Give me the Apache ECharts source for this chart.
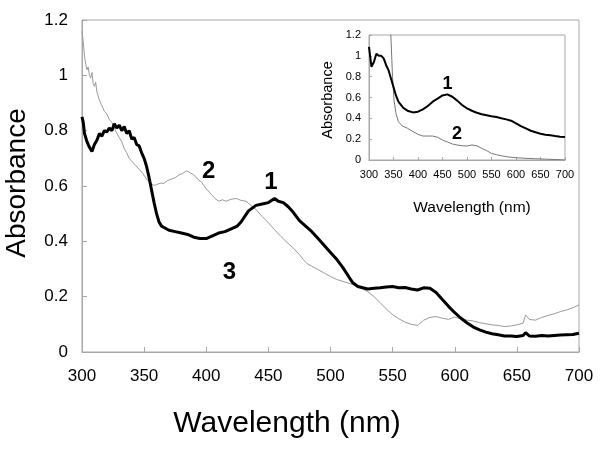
<!DOCTYPE html>
<html>
<head>
<meta charset="utf-8">
<script src="https://cdn.jsdelivr.net/npm/echarts@6/dist/echarts.min.js"></script>
<style>html,body{margin:0;padding:0;background:#fff}#c{width:600px;height:460px}</style>
</head>
<body>
<div id="c"></div>
<script>
// ---- Main chart data ----
var mainWl1 = [300,301,302,304,306,308,310,312,314,316,318,320,322,324,326,328,330,332,334,336,338,340,342,344,346,348,350,352,354,356,358,360,362,364,366,370,375,380,385,390,395,400,405,410,415,420,425,428,431,434,437,440,445,450,455,458,462,466,470,475,480,485,490,495,500,505,510,515,518,522,526,530,535,540,545,550,555,560,565,570,575,580,585,590,595,600,605,610,615,620,625,630,635,640,645,650,655,657,660,665,670,675,680,685,690,695,700];
var mainAbs1 = [0.85,0.83,0.79,0.76,0.74,0.725,0.75,0.765,0.79,0.78,0.80,0.795,0.81,0.80,0.825,0.81,0.82,0.80,0.815,0.79,0.80,0.77,0.775,0.75,0.745,0.72,0.70,0.67,0.63,0.585,0.54,0.50,0.47,0.455,0.45,0.44,0.435,0.43,0.425,0.415,0.41,0.41,0.42,0.43,0.435,0.445,0.455,0.47,0.49,0.51,0.52,0.53,0.535,0.54,0.555,0.545,0.54,0.525,0.505,0.475,0.455,0.435,0.41,0.385,0.36,0.335,0.305,0.27,0.25,0.237,0.232,0.228,0.23,0.232,0.235,0.237,0.232,0.233,0.228,0.224,0.232,0.23,0.215,0.19,0.165,0.142,0.122,0.105,0.09,0.08,0.072,0.066,0.062,0.058,0.058,0.056,0.06,0.07,0.058,0.057,0.06,0.058,0.06,0.061,0.062,0.063,0.068];

var mainWl2 = [300,301,302,303,304,305,306,307,308,309,310,311,312,314,316,318,320,322,324,326,328,330,332,334,336,338,340,343,346,349,352,355,358,360,363,366,369,372,375,378,381,384,387,390,393,396,400,404,407,410,413,416,420,424,428,432,436,440,445,450,455,460,465,470,475,478,481,485,490,495,500,505,510,515,520,525,530,535,540,545,550,555,560,565,570,575,580,585,590,595,600,605,610,615,620,625,630,635,640,645,650,655,657,660,665,670,675,680,685,690,695,700];
var mainAbs2 = [1.16,1.12,1.07,1.04,1.02,1.03,1.00,0.99,1.01,0.97,0.96,0.975,0.94,0.91,0.89,0.87,0.86,0.84,0.83,0.81,0.79,0.775,0.76,0.735,0.72,0.70,0.69,0.675,0.66,0.645,0.625,0.61,0.602,0.605,0.61,0.61,0.62,0.625,0.63,0.64,0.645,0.655,0.648,0.64,0.625,0.615,0.59,0.57,0.555,0.545,0.55,0.545,0.552,0.555,0.548,0.545,0.53,0.515,0.49,0.467,0.442,0.418,0.396,0.376,0.352,0.335,0.32,0.31,0.298,0.285,0.273,0.262,0.255,0.248,0.24,0.23,0.218,0.2,0.178,0.155,0.135,0.12,0.108,0.1,0.096,0.115,0.125,0.128,0.122,0.118,0.126,0.12,0.115,0.112,0.106,0.102,0.098,0.096,0.092,0.094,0.098,0.104,0.134,0.118,0.115,0.125,0.132,0.138,0.146,0.152,0.16,0.17];

// ---- Inset data ----
var insetWl1 = [300,305,310,315,320,325,330,335,340,345,350,355,360,370,380,390,400,410,420,430,440,450,460,470,480,490,500,510,520,530,540,550,560,570,580,590,600,610,620,630,640,650,660,670,680,690,700];
var insetAbs1 = [1.087,0.895,0.94,1.02,1.0,1.0,0.975,0.91,0.86,0.78,0.70,0.62,0.56,0.50,0.47,0.457,0.464,0.486,0.518,0.56,0.59,0.62,0.63,0.607,0.57,0.528,0.496,0.473,0.454,0.44,0.43,0.42,0.413,0.40,0.39,0.377,0.352,0.326,0.304,0.281,0.266,0.252,0.243,0.237,0.23,0.224,0.22];

var insetWl2 = [300,320,340,345,348,351,355,360,368,379,390,400,410,420,430,440,450,460,470,480,490,500,510,520,530,540,550,560,570,580,590,600,620,640,660,680,700];
var insetAbs2 = [3.0,2.2,1.6,1.15,0.8,0.576,0.448,0.368,0.326,0.304,0.272,0.246,0.23,0.23,0.23,0.218,0.192,0.173,0.154,0.144,0.137,0.134,0.144,0.137,0.112,0.09,0.064,0.051,0.041,0.032,0.026,0.022,0.016,0.012,0.008,0.005,0.0];

// ---- Tick settings ----
var xMin = 300, xMax = 700, xStep = 50;
var yMin = 0, yMax = 1.2, yStep = 0.2;

// ---- Curve labels (data coordinates) ----
var mainLabels = [{name:'1', coord:[452,0.613]}, {name:'2', coord:[402,0.654]}, {name:'3', coord:[418.7,0.288]}];
var insetLabels = [{name:'1', coord:[460,0.734]}, {name:'2', coord:[479.6,0.254]}];

function pairs(xs, ys){ return xs.map(function(x,i){ return [x, ys[i]]; }); }

var FONT = 'Liberation Sans, Arial, sans-serif';
var AX = '#a8a8a8';

function xAxisCfg(grid, fs, margin, tickLen){
  return {type:'value', gridIndex:grid, min:xMin, max:xMax, interval:xStep,
    axisLine:{show:true, lineStyle:{color:AX, width:1}},
    axisTick:{show:true, inside:true, length:tickLen, lineStyle:{color:AX}},
    axisLabel:{fontSize:fs, color:'#000', fontFamily:FONT, margin:margin},
    splitLine:{show:false}};
}
function yAxisCfg(grid, fs, margin, tickLen){
  return {type:'value', gridIndex:grid, min:yMin, max:yMax, interval:yStep,
    axisLine:{show:true, lineStyle:{color:AX, width:1}},
    axisTick:{show:true, inside:true, length:tickLen, lineStyle:{color:AX}},
    axisLabel:{fontSize:fs, color:'#000', fontFamily:FONT, margin:margin},
    splitLine:{show:false}};
}
function markLabels(list, fs){
  return {symbol:'rect', symbolSize:[1,1], itemStyle:{color:'rgba(0,0,0,0)'},
    label:{show:true, position:'inside', formatter:'{b}', fontSize:fs, fontWeight:'bold', color:'#000', fontFamily:FONT},
    data:list.map(function(d){ return {name:d.name, coord:d.coord}; })};
}

var chart = echarts.init(document.getElementById('c'), null, {renderer:'canvas'});
chart.setOption({
  backgroundColor:'#fff',
  animation:false,
  grid:[
    {left:82, right:21, top:20, bottom:108, show:true, borderColor:AX, borderWidth:1, backgroundColor:'transparent'},
    {left:369, right:35, top:35, bottom:300, show:true, borderColor:AX, borderWidth:1, backgroundColor:'#fff'}
  ],
  xAxis:[xAxisCfg(0,17,16,5), xAxisCfg(1,11,9,3)],
  yAxis:[yAxisCfg(0,17,14,5), yAxisCfg(1,11,8,3)],
  series:[
    {type:'line', xAxisIndex:0, yAxisIndex:0, data:pairs(mainWl2, mainAbs2), showSymbol:false, symbol:'none',
      lineStyle:{color:'#9a9a9a', width:1}, z:2},
    {type:'line', xAxisIndex:0, yAxisIndex:0, data:pairs(mainWl1, mainAbs1), showSymbol:false, symbol:'none',
      lineStyle:{color:'#000', width:3}, z:3, markPoint:markLabels(mainLabels,24)},
    {type:'line', xAxisIndex:1, yAxisIndex:1, data:pairs(insetWl2, insetAbs2), showSymbol:false, symbol:'none', clip:true,
      lineStyle:{color:'#777', width:1}, z:4},
    {type:'line', xAxisIndex:1, yAxisIndex:1, data:pairs(insetWl1, insetAbs1), showSymbol:false, symbol:'none', clip:true,
      lineStyle:{color:'#000', width:2}, z:5, markPoint:markLabels(insetLabels,18)}
  ],
  graphic:[
    {type:'text', x:287, y:424, style:{text:'Wavelength (nm)', fontSize:30, fontFamily:FONT, fill:'#000', align:'center', verticalAlign:'middle'}},
    {type:'text', x:17, y:183, rotation:Math.PI/2, style:{text:'Absorbance', fontSize:28, fontFamily:FONT, fill:'#000', align:'center', verticalAlign:'middle'}},
    {type:'text', x:472, y:208, style:{text:'Wavelength (nm)', fontSize:15.5, fontFamily:FONT, fill:'#000', align:'center', verticalAlign:'middle'}},
    {type:'text', x:328, y:100, rotation:Math.PI/2, style:{text:'Absorbance', fontSize:14.5, fontFamily:FONT, fill:'#000', align:'center', verticalAlign:'middle'}}
  ]
});
</script>
</body>
</html>
